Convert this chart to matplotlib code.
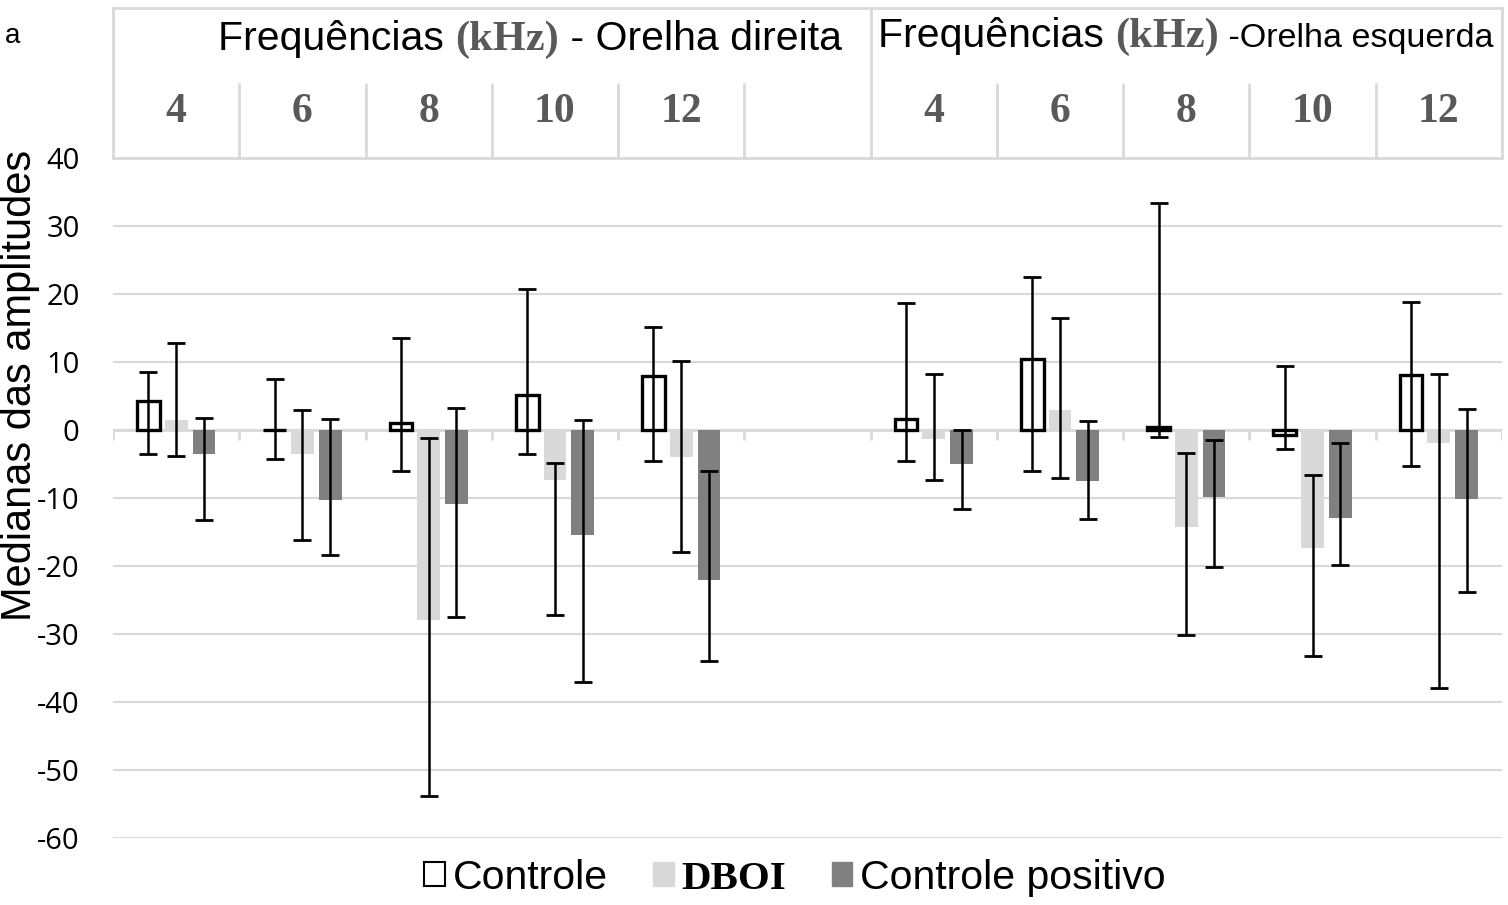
import numpy as np
import matplotlib.pyplot as plt
from matplotlib.patches import Patch

plt.rcParams["axes.unicode_minus"] = False

W, H = 1508, 905

freqs = ["4", "6", "8", "10", "12"]
# first five = orelha direita, last five = orelha esquerda
ctrl = [4.2, 0.0, 1.0, 5.1, 8.0, 1.6, 10.5, 0.5, -0.8, 8.1]
ctrl_lo = [-3.5, -4.3, -6.0, -3.5, -4.5, -4.5, -6.0, -1.1, -2.8, -5.3]
ctrl_hi = [8.6, 7.5, 13.5, 20.8, 15.2, 18.7, 22.5, 33.4, 9.4, 18.8]
dboi = [1.5, -3.6, -27.9, -7.3, -3.9, -1.3, 3.0, -14.2, -17.3, -1.9]
dboi_lo = [-3.8, -16.2, -53.8, -27.2, -18.0, -7.3, -7.0, -30.2, -33.3, -38.0]
dboi_hi = [12.8, 2.9, -1.2, -4.8, 10.2, 8.2, 16.5, -3.4, -6.6, 8.2]
cpos = [-3.5, -10.3, -10.9, -15.4, -22.1, -5.0, -7.5, -9.9, -13.0, -10.2]
cpos_lo = [-13.2, -18.4, -27.5, -37.0, -34.0, -11.6, -13.1, -20.2, -19.9, -23.8]
cpos_hi = [1.8, 1.6, 3.2, 1.5, -6.0, 0.0, 1.3, -1.4, -1.9, 3.1]

grid_c = "#d9d9d9"
sans = "Liberation Sans"
serif = "Liberation Serif"

x = np.array([0, 1, 2, 3, 4, 6, 7, 8, 9, 10])
bw = 0.18
off = 0.22

fig = plt.figure(figsize=(W / 100, H / 100), dpi=100)
left, right = 113 / W, 1502 / W
ax = fig.add_axes([left, 1 - 838 / H, right - left, (838 - 158) / H])

ax.set_xlim(-0.5, 10.5)
ax.set_ylim(-60, 40)
ax.set_yticks(np.arange(-60, 41, 10))
ax.grid(axis="y", color=grid_c, lw=1.5, zorder=0)
ax.set_axisbelow(True)
for s in ax.spines.values():
    s.set_visible(False)
ax.tick_params(axis="y", length=0, pad=24, labelsize=21)
for lab in ax.get_yticklabels():
    lab.set_fontfamily("Open Sans")
ax.set_xticks([])

# category axis at zero with small tick marks
ax.axhline(0, color=grid_c, lw=2, zorder=1)
ax.vlines(np.arange(-0.5, 10.6, 1), -1.5, 0, color=grid_c, lw=2, zorder=1)

ax.bar(x - off, ctrl, bw, facecolor="white", edgecolor="black", lw=2.4, zorder=3)
ax.bar(x, dboi, bw, color="#d9d9d9", zorder=3)
ax.bar(x + off, cpos, bw, color="#808080", zorder=3)

for xs, lo, hi in [(x - off, ctrl_lo, ctrl_hi), (x, dboi_lo, dboi_hi), (x + off, cpos_lo, cpos_hi)]:
    lo = np.array(lo)
    hi = np.array(hi)
    ax.errorbar(xs, (lo + hi) / 2, yerr=(hi - lo) / 2, fmt="none", ecolor="black",
                elinewidth=1.8, capsize=6.5, capthick=2.0, zorder=4)

fig.text(0 / W, 1 - 385 / H, "Medianas das amplitudes", rotation=90, ha="left",
         va="center", fontsize=30, family=sans)

# header table
hx = fig.add_axes([left, 1 - 158 / H, right - left, 150 / H])
hx.set_xlim(-0.5, 10.5)
hx.set_ylim(0, 1)
hx.set_xticks([])
hx.set_yticks([])
for s in hx.spines.values():
    s.set_color(grid_c)
    s.set_linewidth(2)
hx.vlines([0.5, 1.5, 2.5, 3.5, 4.5, 6.5, 7.5, 8.5, 9.5], 0, 0.5, color=grid_c, lw=2)
hx.vlines([5.5], 0, 1, color=grid_c, lw=2)
for i, xi in enumerate(x):
    hx.text(xi, 0.24, freqs[i % 5], ha="center", va="baseline", fontsize=30,
            family=serif, weight="bold", color="#595959")


def title(x0, yb, tail, tail_size):
    t1 = hx.text(x0, yb, "Frequências ", ha="left", va="baseline", fontsize=29.5, family=sans)
    t2 = hx.annotate("(kHz)", xy=(1, yb), xycoords=(t1, "data"), ha="left", va="baseline",
                     fontsize=30.5, family=serif, weight="bold", color="#595959")
    hx.annotate(tail, xy=(1, yb), xycoords=(t2, "data"), ha="left", va="baseline",
                fontsize=tail_size, family=sans)


title((218 - 113) / 126.3 - 0.5, (158 - 50) / 150, " - Orelha direita", 29.5)
title((878 - 113) / 126.3 - 0.5, (158 - 47) / 150, " -Orelha esquerda", 24.5)

fig.text(5 / W, 1 - 36 / H, "a", fontsize=20, family=sans, va="center")

handles = [Patch(facecolor="white", edgecolor="black", lw=1.5),
           Patch(color="#d9d9d9"), Patch(color="#808080")]
leg = fig.legend(handles, ["Controle", "DBOI", "Controle positivo"], ncol=3,
                 loc="center", bbox_to_anchor=(795 / W, 1 - 878 / H), frameon=False,
                 prop={"family": sans, "size": 29.5}, handlelength=0.5, handleheight=0.5,
                 handletextpad=0.2, columnspacing=1.1, borderaxespad=0)
leg.get_texts()[1].set_fontfamily(serif)
leg.get_texts()[1].set_fontweight("bold")

fig.savefig("out.png", dpi=100)
